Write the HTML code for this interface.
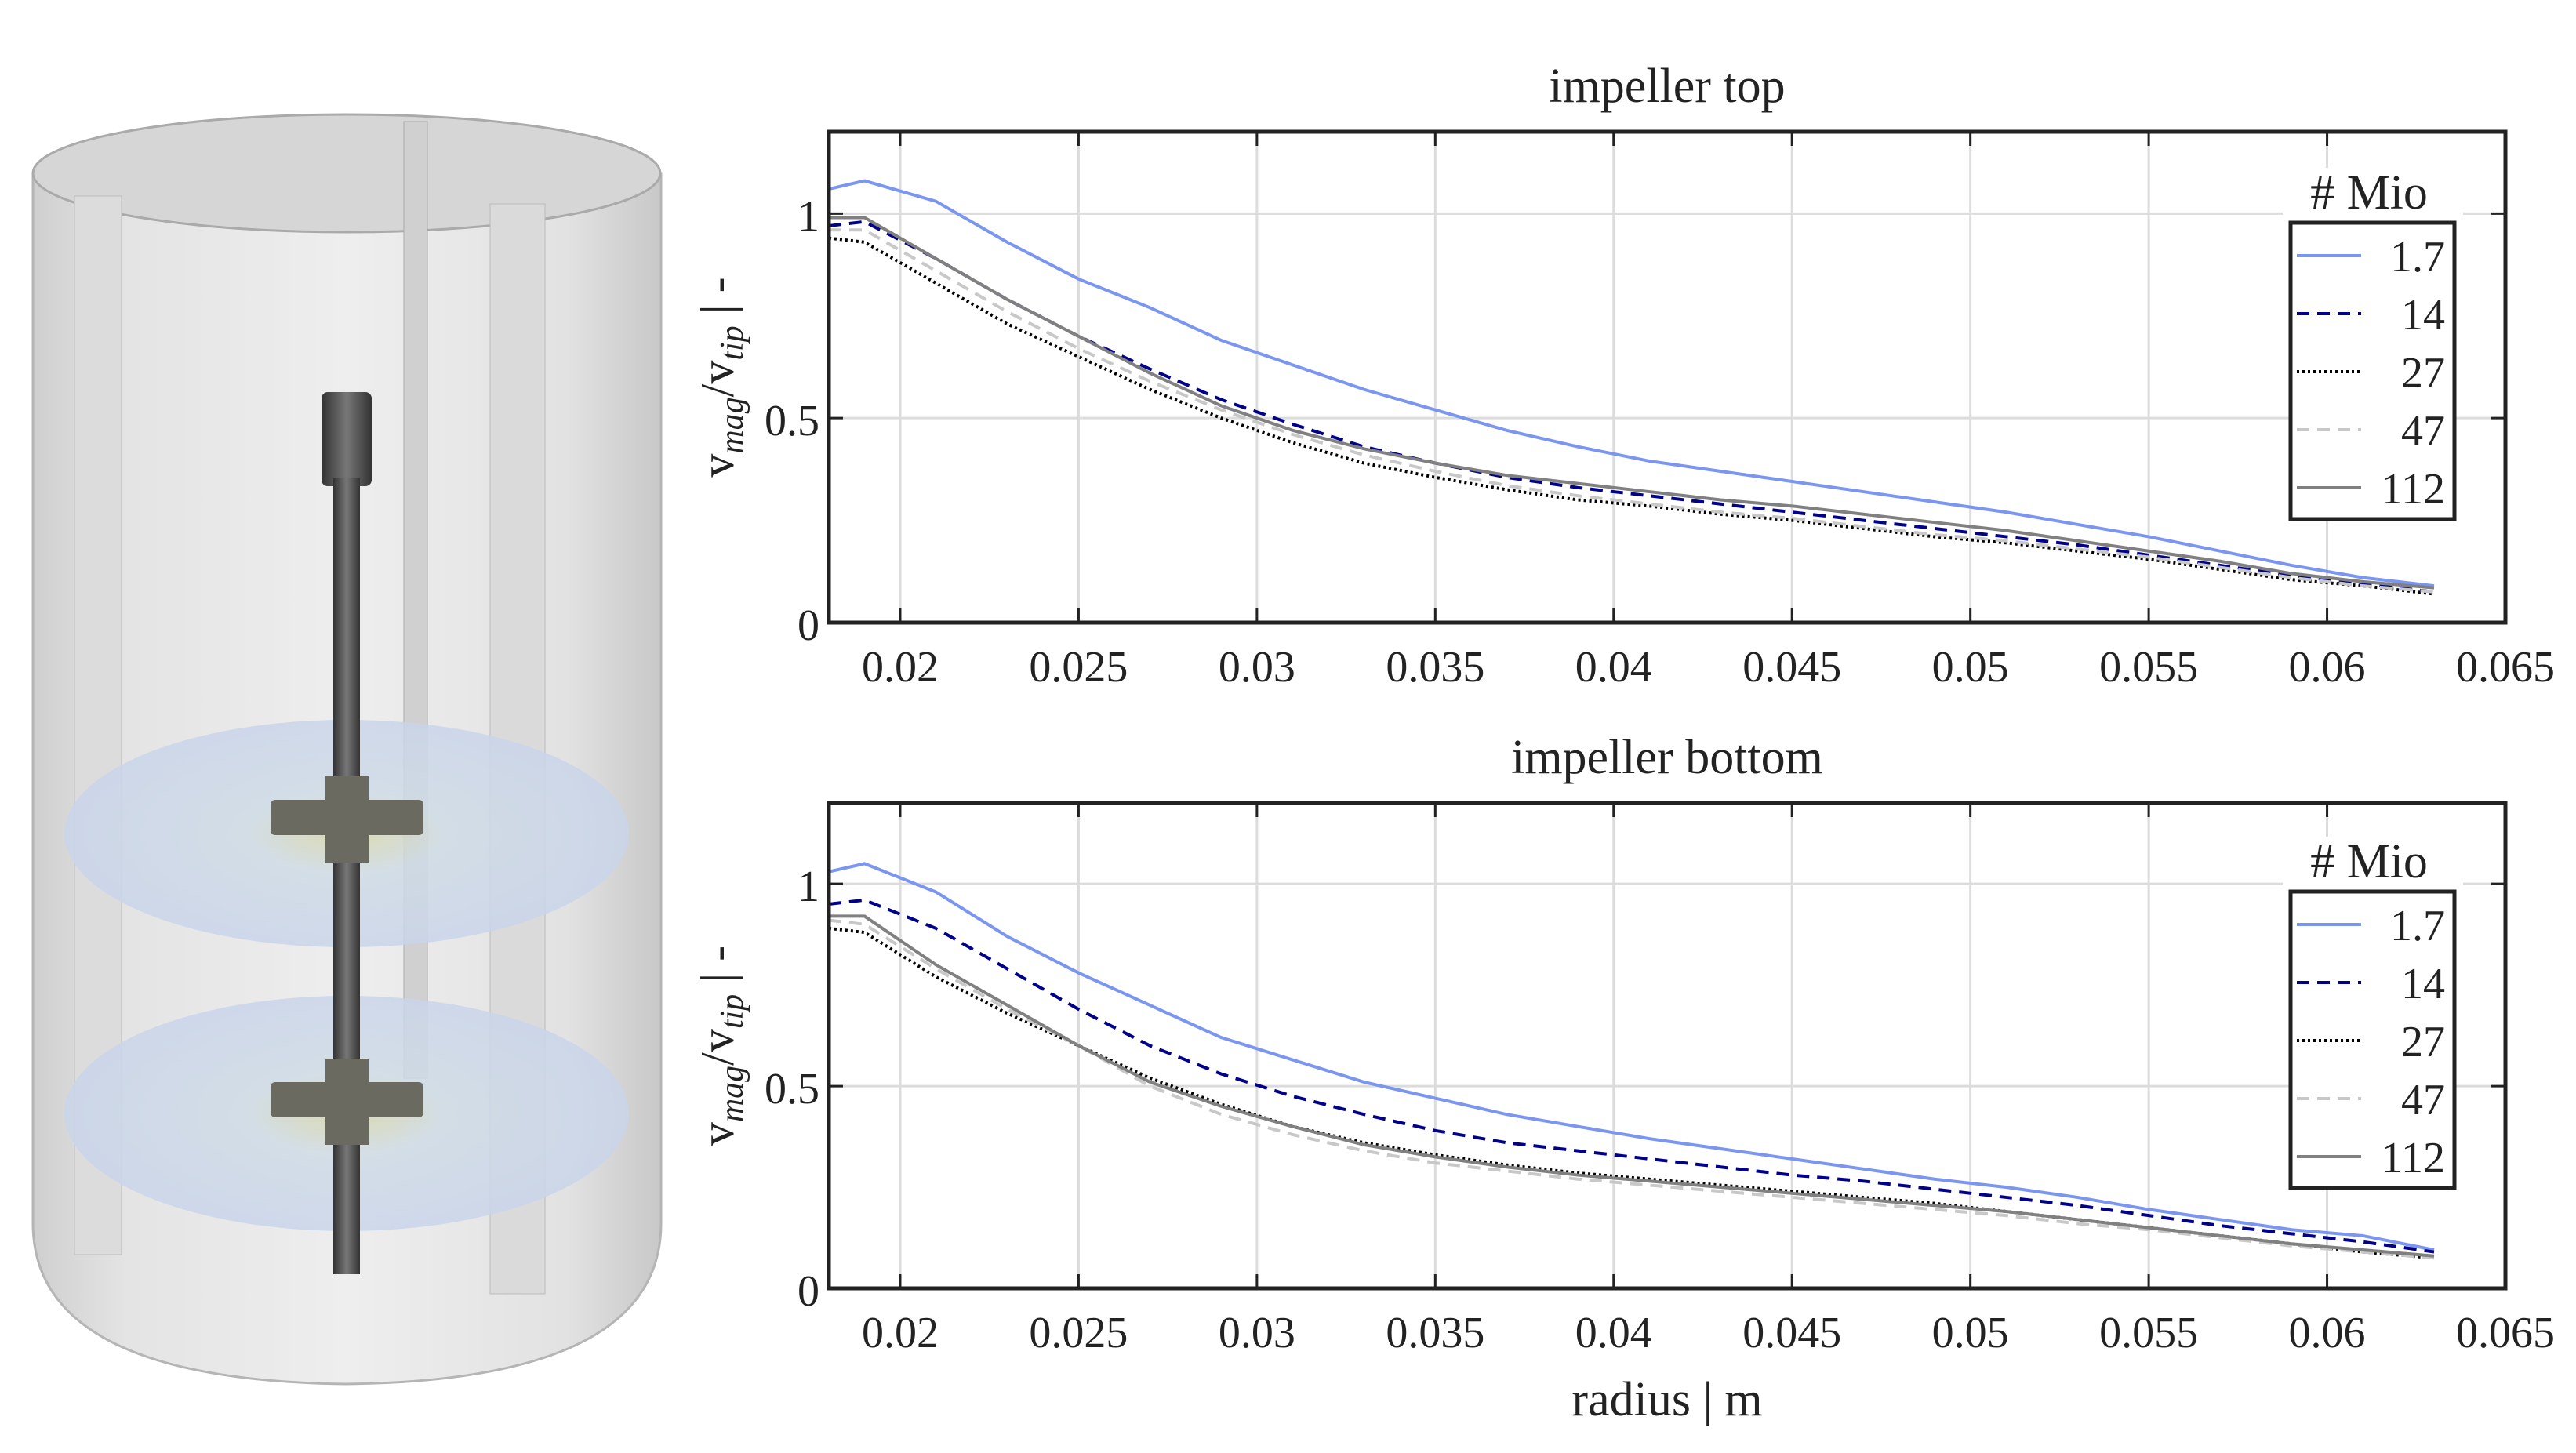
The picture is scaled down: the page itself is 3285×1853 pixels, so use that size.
<!DOCTYPE html>
<html><head><meta charset="utf-8"><style>
body{margin:0;background:#fff;width:3285px;height:1853px;overflow:hidden}
svg{position:absolute;left:0;top:0}
text{font-family:"Liberation Serif",serif;fill:#222}
</style></head><body>
<svg id="tank" width="900" height="1853" viewBox="0 0 900 1853">
<defs>
<linearGradient id="body" x1="0" x2="1"><stop offset="0" stop-color="#cfcfcf"/><stop offset="0.15" stop-color="#e4e4e4"/><stop offset="0.5" stop-color="#eeeeee"/><stop offset="0.85" stop-color="#e2e2e2"/><stop offset="1" stop-color="#c8c8c8"/></linearGradient>
<radialGradient id="disk"><stop offset="0" stop-color="#d9d8a8"/><stop offset="0.35" stop-color="#cfdbe6"/><stop offset="1" stop-color="#c9d5ea"/></radialGradient>
<linearGradient id="shaft" x1="0" x2="1"><stop offset="0" stop-color="#333"/><stop offset="0.5" stop-color="#777"/><stop offset="1" stop-color="#333"/></linearGradient>
</defs>
<path d="M42 221 L42 1560 Q42 1760 442 1765 Q843 1760 843 1560 L843 221 Z" fill="url(#body)" stroke="#b5b5b5" stroke-width="3"/>
<ellipse cx="442" cy="221" rx="400" ry="75" fill="#d6d6d6" stroke="#aaa" stroke-width="3"/>
<rect x="515" y="155" width="30" height="1220" fill="#d0d0d0" stroke="#aaa"/>
<rect x="95" y="250" width="60" height="1350" fill="#dcdcdc" stroke="#bbb"/>
<rect x="625" y="260" width="70" height="1390" fill="#dadada" stroke="#bbb"/>
<ellipse cx="442" cy="1063" rx="360" ry="145" fill="url(#disk)" opacity="0.85"/>
<ellipse cx="442" cy="1420" rx="360" ry="150" fill="url(#disk)" opacity="0.85"/>
<rect x="410" y="500" width="64" height="120" rx="8" fill="url(#shaft)"/>
<rect x="425" y="610" width="34" height="1015" fill="url(#shaft)"/>
<g fill="#6a6a60"><rect x="345" y="1020" width="195" height="45" rx="6"/><rect x="415" y="990" width="55" height="110"/></g>
<g fill="#6a6a60"><rect x="345" y="1380" width="195" height="45" rx="6"/><rect x="415" y="1350" width="55" height="110"/></g>
</svg>
<svg id="chart" width="3285" height="1853" viewBox="0 0 3285 1853"></svg>
<script>
const xs=[0.018,0.019,0.021,0.023,0.025,0.027,0.029,0.031,0.033,0.035,0.037,0.039,0.041,0.043,0.045,0.047,0.049,0.051,0.053,0.055,0.057,0.059,0.061,0.063];
const seriesNames=["1.7","14","27","47","112"];
const topV17=[1.06,1.08,1.03,0.93,0.84,0.77,0.69,0.63,0.57,0.52,0.47,0.43,0.395,0.37,0.345,0.32,0.295,0.27,0.24,0.21,0.175,0.14,0.11,0.09];
const topV14=[0.97,0.98,0.89,0.79,0.70,0.62,0.545,0.485,0.43,0.39,0.355,0.33,0.31,0.29,0.27,0.25,0.23,0.21,0.19,0.165,0.14,0.115,0.095,0.075];
const topV27=[0.94,0.93,0.83,0.73,0.65,0.57,0.50,0.44,0.39,0.355,0.325,0.30,0.285,0.265,0.25,0.23,0.21,0.195,0.175,0.155,0.13,0.105,0.09,0.07];
const topV47=[0.96,0.96,0.86,0.76,0.67,0.59,0.52,0.46,0.41,0.37,0.335,0.31,0.29,0.27,0.255,0.235,0.215,0.20,0.18,0.16,0.135,0.11,0.09,0.075];
const topV112=[0.99,0.99,0.89,0.79,0.70,0.61,0.53,0.47,0.425,0.39,0.36,0.34,0.32,0.30,0.285,0.265,0.245,0.225,0.20,0.175,0.15,0.12,0.10,0.085];
const botV17=[1.03,1.05,0.98,0.87,0.78,0.70,0.62,0.565,0.51,0.47,0.43,0.40,0.37,0.345,0.32,0.295,0.27,0.25,0.225,0.195,0.17,0.145,0.13,0.095];
const botV14=[0.95,0.96,0.89,0.79,0.69,0.60,0.53,0.475,0.43,0.39,0.36,0.34,0.32,0.30,0.28,0.265,0.245,0.225,0.205,0.18,0.155,0.135,0.115,0.09];
const botV27=[0.89,0.88,0.77,0.68,0.60,0.52,0.455,0.40,0.36,0.33,0.305,0.285,0.27,0.255,0.24,0.225,0.21,0.19,0.17,0.15,0.13,0.11,0.09,0.075];
const botV47=[0.91,0.90,0.79,0.69,0.60,0.50,0.43,0.38,0.34,0.31,0.29,0.27,0.255,0.24,0.225,0.21,0.195,0.18,0.16,0.145,0.125,0.105,0.09,0.075];
const botV112=[0.92,0.92,0.80,0.70,0.60,0.51,0.45,0.40,0.355,0.325,0.30,0.28,0.265,0.25,0.235,0.22,0.205,0.19,0.17,0.15,0.13,0.11,0.095,0.08];
const xTicks=[0.02,0.025,0.03,0.035,0.04,0.045,0.05,0.055,0.06,0.065];
const xTickLabels=["0.02","0.025","0.03","0.035","0.04","0.045","0.05","0.055","0.06","0.065"];
const yTicks=[0,0.5,1];
const yTickLabels=["0","0.5","1"];
const styles=[{c:"#7b96f0",d:""},{c:"#00008b",d:"16 10"},{c:"#000",d:"3 4"},{c:"#c8c8c8",d:"16 10"},{c:"#808080",d:""}];
const NS="http://www.w3.org/2000/svg";
const svg=document.getElementById('chart');
function el(t,a,p){const e=document.createElementNS(NS,t);for(const k in a)e.setAttribute(k,a[k]);(p||svg).appendChild(e);return e;}
function panel(name,title,y0,y1,data,lgTop,showX){
 const x0=1057,x1=3195,xmin=0.018,xmax=0.065,ymax=1.2;
 const X=v=>x0+(v-xmin)/(xmax-xmin)*(x1-x0);
 const Y=v=>y1-v/ymax*(y1-y0);
 const g=el('g',{});
 
 
 xTicks.forEach((t,i)=>{
  const l=el('line',{x1:X(t),x2:X(t),y1:y0,y2:y1,stroke:'#dcdcdc','stroke-width':3},g);
  
  
  el('line',{x1:X(t),x2:X(t),y1:y1,y2:y1-18,stroke:'#222','stroke-width':3},g);
  el('line',{x1:X(t),x2:X(t),y1:y0,y2:y0+18,stroke:'#222','stroke-width':3},g);
  const tx=el('text',{x:X(t),y:y1+75,'text-anchor':'middle','font-size':56},g);tx.textContent=xTickLabels[i];
  
  
 });
 yTicks.forEach((t,i)=>{
  const l=el('line',{x1:x0,x2:x1,y1:Y(t),y2:Y(t),stroke:'#dcdcdc','stroke-width':3},g);
  
  
  el('line',{x1:x0,x2:x0+18,y1:Y(t),y2:Y(t),stroke:'#222','stroke-width':3},g);
  el('line',{x1:x1,x2:x1-18,y1:Y(t),y2:Y(t),stroke:'#222','stroke-width':3},g);
  const tx=el('text',{x:x0-12,y:Y(t)+22,'text-anchor':'end','font-size':56},g);tx.textContent=yTickLabels[i];
  
  
 });
 data.forEach((vals,i)=>{
  const p=el('polyline',{points:vals.map((v,j)=>X(xs[j])+','+Y(v)).join(' '),fill:'none',stroke:styles[i].c,'stroke-width':4,'stroke-dasharray':styles[i].d},g);
  
  
 });
 const fr=el('rect',{x:x0,y:y0,width:x1-x0,height:y1-y0,fill:'none',stroke:'#222','stroke-width':5},g);
 
 
 const tt=el('text',{x:(x0+x1)/2,y:y0-38,'text-anchor':'middle','font-size':62},g);tt.textContent=title;
 
 
 const yl=el('text',{x:0,y:0,'text-anchor':'middle','font-size':60,transform:`translate(935,${(y0+y1)/2}) rotate(-90)`},g);
 yl.innerHTML='v<tspan font-style="italic" font-size="42" dy="12">mag</tspan><tspan dy="-12">/v</tspan><tspan font-style="italic" font-size="42" dy="12">tip</tspan><tspan dy="-12"> | -</tspan>';
 
 
 // legend
 const lx=2921,lw=209,lh=378;
 const lg=el('g',{},g);
 
 
 el('rect',{x:lx-10,y:lTopY(lgTop)-70,width:230,height:72,fill:'#fff'},lg);
 const lt=el('text',{x:lx+100,y:lgTop-18,'text-anchor':'middle','font-size':62},lg);lt.textContent='# Mio';
 
 
 el('rect',{x:lx,y:lgTop,width:lw,height:lh,fill:'#fff',stroke:'#222','stroke-width':5},lg);
 seriesNames.forEach((n,i)=>{
  const cy=lgTop+42+i*74;
  const e=el('g',{},lg);
  
  
  el('line',{x1:lx+8,x2:lx+90,y1:cy,y2:cy,stroke:styles[i].c,'stroke-width':4,'stroke-dasharray':styles[i].d},e);
  const t=el('text',{x:lx+lw-12,y:cy+20,'text-anchor':'end','font-size':56},e);t.textContent=n;
 });
 if(showX){
  const xt=el('text',{x:(x0+x1)/2,y:1805,'text-anchor':'middle','font-size':62},g);xt.textContent='radius | m';
  
  
 }
}
function lTopY(v){return v;}
panel('top-panel','impeller top',168,794,[topV17,topV14,topV27,topV47,topV112],284,false);
panel('bottom-panel','impeller bottom',1024,1643,[botV17,botV14,botV27,botV47,botV112],1137,true);
</script>
</body></html>
